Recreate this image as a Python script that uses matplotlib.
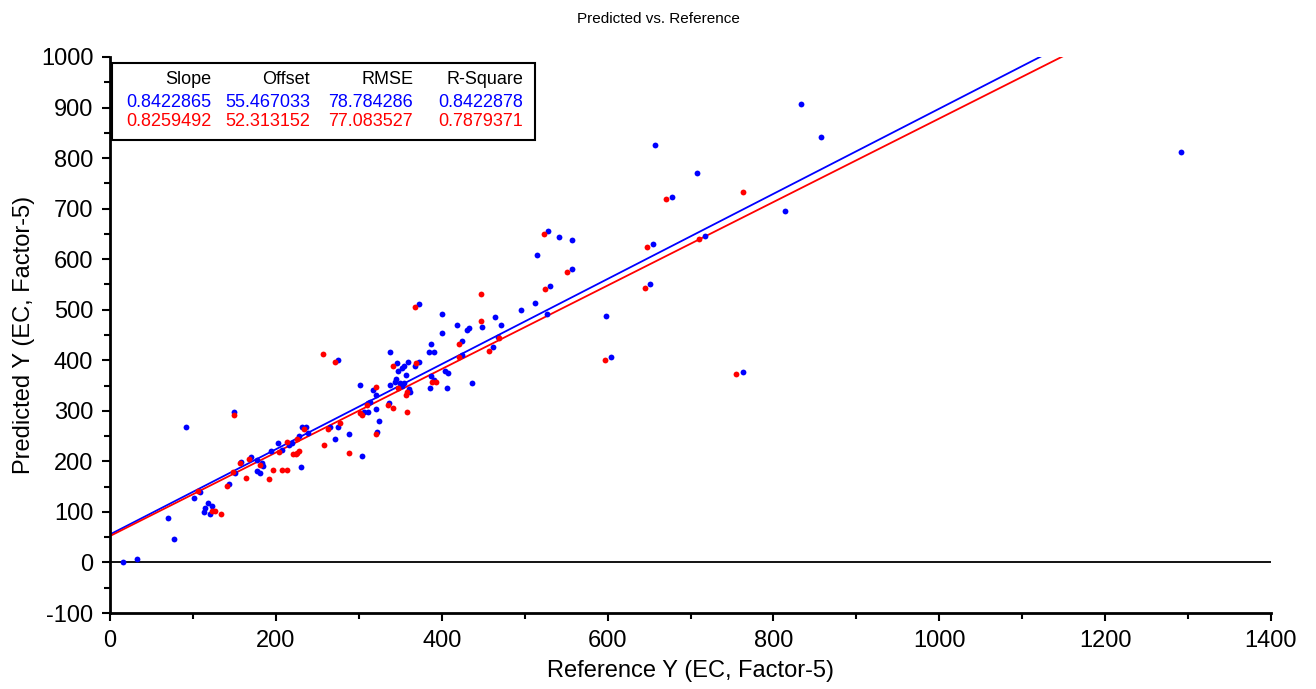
import numpy as np
import matplotlib
matplotlib.use("Agg")
import matplotlib.pyplot as plt
from matplotlib.patches import Rectangle
from matplotlib.ticker import MultipleLocator

plt.rcParams['font.family'] = ['Liberation Sans', 'DejaVu Sans']
plt.rcParams['axes.unicode_minus'] = False

# blue set (reference, predicted)
blue_x = [16, 32, 69.5, 77, 92, 149, 101, 108, 118.6, 122.5, 114.5, 120.6, 113,
          143.6, 150.7, 158, 169.6, 177, 177, 181, 183.7, 185, 194, 202, 207, 216,
          219.5, 228, 230, 231, 236, 239, 265, 271, 275, 288.6, 275, 304, 301.5,
          306.3, 311.5, 310.7, 313.6, 317, 320.8, 320.8, 324.8, 322.4, 336, 337.6,
          345.7, 347.7, 352.5, 354.7, 359.3, 345, 343.6, 337.6, 349.7, 354.5, 351.7,
          357, 360.5, 361.8, 367.8, 372, 372, 400, 400, 386.6, 385, 390.7, 386.6,
          390.8, 385.9, 404, 408, 406, 436, 425, 424.5, 419, 431, 432.5, 449, 464,
          472, 462, 468, 496, 512, 515, 528.5, 542, 557, 557, 530.6, 527, 598.5,
          604, 655, 651.5, 718, 763, 814, 657, 708, 678, 833, 857, 1292]
blue_y = [0, 6, 87, 46, 267, 298, 127, 139, 117, 112, 107, 96, 99,
          155, 176.5, 199, 208, 203, 180, 176.5, 196, 191.5, 220.6, 236, 222.6, 232.5,
          236, 250, 189.6, 267.5, 267.5, 255.6, 267.5, 245, 267.5, 254, 400.6, 211, 351,
          298.4, 298.4, 315, 318, 341, 331, 303.7, 280, 258, 315, 416,
          394, 379, 385.4, 388.8, 396.7, 362.5, 356.5, 351, 354.5, 354.5, 349.8,
          370, 342.7, 338, 388, 397, 512, 491, 453, 431.7, 416, 416, 369.6,
          361, 344.6, 379, 375.5, 344.6, 354.5, 438.7, 410.5, 469, 460, 463.3, 466, 485,
          469, 426, 447, 500, 513, 609, 656, 643, 637, 580.7, 546.5, 491, 487.7,
          407, 630.7, 550, 646.6, 376, 695.5, 826.6, 770.6, 723.7, 907, 842, 812]

# red set
red_x = [149, 106, 122.6, 126.6, 133.8, 141.5, 148.7, 156.8, 164, 168, 181, 192, 196,
         204, 207, 213, 214, 220.7, 224, 226, 228, 225, 234, 258, 262.5, 277, 288.6,
         256.5, 271, 301.8, 303.5, 309.6, 320.8, 320.8, 334.9, 341.6, 358.6, 341.6,
         347.6, 357.8, 357, 368.6, 368, 388.7, 392.7, 421, 421, 447, 447, 457, 468.5,
         525, 523, 551.5, 596.4, 648, 645.5, 710, 755, 670.5, 763]
red_y = [292, 141, 102, 102, 96, 152, 178.5, 196, 167, 205, 193, 165, 183,
         218, 183, 183, 238, 214.7, 214, 216, 220.6, 244, 264, 233, 264, 276.7, 217,
         413, 397, 295, 291.8, 311.6, 348, 254, 311.6, 306, 298.4, 388,
         346, 338, 332, 395, 506, 357, 357, 432.5, 406, 531, 478, 419, 445,
         540.5, 649, 575, 400.6, 624, 543.7, 640, 373, 719, 733]

headers = ['Slope', 'Offset', 'RMSE', 'R-Square']
blue_stats = ['0.8422865', '55.467033', '78.784286', '0.8422878']
red_stats = ['0.8259492', '52.313152', '77.083527', '0.7879371']
blue_slope, blue_offset = 0.8422865, 55.467033
red_slope, red_offset = 0.8259492, 52.313152

fig = plt.figure(figsize=(13.16, 6.89), dpi=100)
ax = fig.add_axes([0.0836, 0.1103, 0.8822, 0.807])

xx = np.array([0, 1400])
ax.plot(xx, blue_slope * xx + blue_offset, color='#0000ff', lw=1.3, zorder=2)
ax.plot(xx, red_slope * xx + red_offset, color='#ff0000', lw=1.3, zorder=2)
ax.axhline(0, color='black', lw=1.3, zorder=1)

ax.plot(blue_x, blue_y, 'o', color='#0000ff', ms=4.2, mew=0, zorder=3)
ax.plot(red_x, red_y, 'o', color='#ff0000', ms=4.2, mew=0, zorder=4)

ax.set_xlim(0, 1400)
ax.set_ylim(-100, 1000)
ax.xaxis.set_major_locator(MultipleLocator(200))
ax.xaxis.set_minor_locator(MultipleLocator(100))
ax.yaxis.set_major_locator(MultipleLocator(100))
ax.yaxis.set_minor_locator(MultipleLocator(50))
ax.tick_params(which='major', length=6, width=1.5, labelsize=17, pad=6)
ax.tick_params(which='minor', length=4, width=1.5)
for s in ['top', 'right']:
    ax.spines[s].set_visible(False)
for s in ['left', 'bottom']:
    ax.spines[s].set_linewidth(2)

ax.set_xlabel('Reference Y (EC, Factor-5)', fontsize=17, labelpad=6)
ax.set_ylabel('Predicted Y (EC, Factor-5)', fontsize=17, labelpad=4)
fig.text(0.5, 0.972, 'Predicted vs. Reference', ha='center', va='center',
         fontsize=11, family=['Liberation Sans Narrow', 'Liberation Sans'])

# stats box
ax.add_patch(Rectangle((0.0017, 0.8507), 0.3643, 0.1385, transform=ax.transAxes,
                       facecolor='white', edgecolor='black', lw=1.5, zorder=5))
col_x = [0.087, 0.1723, 0.2610, 0.3557]
for cx, h, b, r in zip(col_x, headers, blue_stats, red_stats):
    ax.text(cx, 0.9586, h, transform=ax.transAxes, ha='right', va='center',
            fontsize=13, color='black', zorder=6)
    ax.text(cx, 0.9173, b, transform=ax.transAxes, ha='right', va='center',
            fontsize=13, color='#0000ff', zorder=6)
    ax.text(cx, 0.8831, r, transform=ax.transAxes, ha='right', va='center',
            fontsize=13, color='#ff0000', zorder=6)

fig.savefig('out.png', dpi=100)
